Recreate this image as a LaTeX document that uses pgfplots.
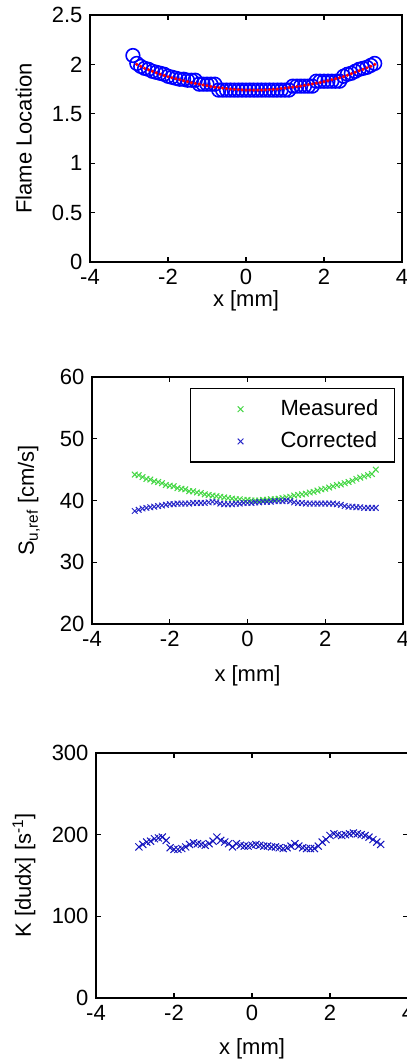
\documentclass[border=0pt]{standalone}
\usepackage{fontspec}
\setmainfont{Liberation Sans}
\usepackage{pgfplots}
\pgfplotsset{compat=1.18}
\definecolor{mgreen}{RGB}{70,215,70}
\definecolor{mblue}{RGB}{40,40,200}
\definecolor{kblue}{RGB}{20,20,190}
\begin{document}
\fontsize{22}{26}\selectfont
\begin{tikzpicture}
\pgfplotsset{
  every axis/.append style={
    scale only axis,
    xmin=-4, xmax=4, xtick={-4,-2,0,2,4},
    tick align=inside, major tick length=5pt,
    axis line style={line width=1.2pt},
    every tick/.style={black, line width=1.2pt},
    font=\fontsize{22}{26}\selectfont,
    /pgf/number format/assume math mode=true,
    tick label style={font=\fontsize{22}{26}\selectfont},
    clip=false,
  }
}
% ---------------- Panel 1 ----------------
\begin{axis}[
  at={(90pt,799pt)}, anchor=south west,
  width=312pt, height=247pt,
  ymin=0, ymax=2.5, ytick={0,0.5,1,1.5,2,2.5},
  yticklabels={0,0.5,1,1.5,2,2.5},
  xlabel={x [mm]}, ylabel={Flame Location},
  xlabel style={at={(axis description cs:0.5,-0.158)}, anchor=center},
  ylabel style={at={(axis description cs:-0.212,0.5)}, anchor=center},
]
\addplot[only marks, mark=o, mark size=6.8pt, blue, line width=1.6pt] coordinates {
(-2.9,2.09) (-2.8,2.01) (-2.7,1.98) (-2.6,1.96) (-2.5,1.95) (-2.4,1.93) (-2.3,1.92)
(-2.2,1.91) (-2.1,1.90) (-2.0,1.88) (-1.9,1.87) (-1.8,1.86) (-1.7,1.85) (-1.6,1.85)
(-1.5,1.84) (-1.4,1.84) (-1.3,1.84) (-1.2,1.80) (-1.1,1.80) (-1.0,1.80) (-0.9,1.80)
(-0.8,1.80) (-0.7,1.74) (-0.6,1.74) (-0.5,1.74) (-0.4,1.74) (-0.3,1.74) (-0.2,1.74)
(-0.1,1.74) (0.0,1.74) (0.1,1.74) (0.2,1.74) (0.3,1.74) (0.4,1.74) (0.5,1.74)
(0.6,1.74) (0.7,1.74) (0.8,1.74) (0.9,1.74) (1.0,1.74) (1.1,1.74) (1.2,1.78)
(1.3,1.78) (1.4,1.78) (1.5,1.78) (1.6,1.78) (1.7,1.78) (1.8,1.83) (1.9,1.83)
(2.0,1.83) (2.1,1.83) (2.2,1.83) (2.3,1.83) (2.4,1.83) (2.5,1.88) (2.6,1.90)
(2.7,1.91) (2.8,1.93) (2.9,1.95) (3.0,1.96) (3.1,1.97) (3.2,1.99) (3.3,2.01)
};
\addplot[red, line width=0.9pt, dash pattern=on 2pt off 2pt, mark=*, mark size=1.1pt, mark options={solid}] coordinates {
(-2.8,2.00) (-2.7,1.98) (-2.6,1.96) (-2.5,1.945) (-2.4,1.93) (-2.3,1.915) (-2.2,1.90)
(-2.1,1.887) (-2.0,1.875) (-1.9,1.865) (-1.8,1.855) (-1.7,1.845) (-1.6,1.835)
(-1.5,1.825) (-1.4,1.815) (-1.3,1.807) (-1.2,1.80) (-1.1,1.792) (-1.0,1.785)
(-0.9,1.777) (-0.8,1.77) (-0.7,1.765) (-0.6,1.76) (-0.5,1.755) (-0.4,1.75)
(-0.3,1.747) (-0.2,1.745) (-0.1,1.742) (0.0,1.74) (0.1,1.74) (0.2,1.74) (0.3,1.74)
(0.4,1.74) (0.5,1.742) (0.6,1.745) (0.7,1.747) (0.8,1.75) (0.9,1.755) (1.0,1.76)
(1.1,1.765) (1.2,1.77) (1.3,1.775) (1.4,1.78) (1.5,1.787) (1.6,1.795) (1.7,1.802)
(1.8,1.81) (1.9,1.817) (2.0,1.825) (2.1,1.835) (2.2,1.845) (2.3,1.855) (2.4,1.865)
(2.5,1.877) (2.6,1.89) (2.7,1.905) (2.8,1.92) (2.9,1.935) (3.0,1.95) (3.1,1.965)
(3.2,1.98) (3.3,2.00)
};
\end{axis}
% ---------------- Panel 2 ----------------
\begin{axis}[
  at={(92pt,437pt)}, anchor=south west,
  width=311pt, height=247pt,
  ymin=20, ymax=60, ytick={20,30,40,50,60},
  xlabel={x [mm]}, ylabel={S\textsubscript{u,ref} [cm/s]},
  xlabel style={at={(axis description cs:0.5,-0.2105)}, anchor=center},
  ylabel style={at={(axis description cs:-0.2026,0.5)}, anchor=center},
  legend style={at={(1,1)}, anchor=north east, xshift=-8pt, yshift=-11pt,
    draw=black, line width=1.2pt, inner xsep=14pt, inner ysep=9pt,
    row sep=9pt, column sep=10pt, font=\fontsize{22}{26}\selectfont,
    nodes={inner sep=2pt}, cells={anchor=west}},
  legend image code/.code={\path[draw=none, fill=none] (0pt,-6pt) rectangle (64pt,6pt); \draw[#1] plot coordinates {(36pt,0pt)};},
]
\addplot[only marks, mark=x, mark size=4pt, mgreen, line width=1pt] coordinates {
(-2.9,44.2) (-2.8,44.1) (-2.7,43.8) (-2.6,43.5) (-2.5,43.4) (-2.4,43.1) (-2.3,43.0)
(-2.2,42.8) (-2.1,42.5) (-2.0,42.4) (-1.9,42.3) (-1.8,42.0) (-1.7,41.9) (-1.6,41.8)
(-1.5,41.5) (-1.4,41.5) (-1.3,41.3) (-1.2,41.2) (-1.1,41.0) (-1.0,40.9) (-0.9,40.8)
(-0.8,40.7) (-0.7,40.6) (-0.6,40.5) (-0.5,40.4) (-0.4,40.3) (-0.3,40.2) (-0.2,40.2)
(-0.1,40.1) (0.0,40.1) (0.1,40.0) (0.2,40.0) (0.3,40.0) (0.4,40.1) (0.5,40.1)
(0.6,40.2) (0.7,40.2) (0.8,40.3) (0.9,40.4) (1.0,40.5) (1.1,40.6) (1.2,40.8)
(1.3,40.9) (1.4,41.0) (1.5,41.1) (1.6,41.3) (1.7,41.4) (1.8,41.6) (1.9,41.8)
(2.0,41.9) (2.1,42.1) (2.2,42.3) (2.3,42.5) (2.4,42.6) (2.5,42.8) (2.6,43.0)
(2.7,43.2) (2.8,43.5) (2.9,43.7) (3.0,43.9) (3.1,44.1) (3.2,44.3) (3.3,45.0)
};
\addlegendentry{Measured}
\addplot[only marks, mark=x, mark size=4pt, mblue, line width=1pt] coordinates {
(-2.9,38.3) (-2.8,38.5) (-2.7,38.7) (-2.6,38.8) (-2.5,38.9) (-2.4,39.0) (-2.3,39.1)
(-2.2,39.2) (-2.1,39.3) (-2.0,39.4) (-1.9,39.4) (-1.8,39.5) (-1.7,39.5) (-1.6,39.5)
(-1.5,39.5) (-1.4,39.6) (-1.3,39.6) (-1.2,39.6) (-1.1,39.6) (-1.0,39.7) (-0.9,39.8)
(-0.8,39.7) (-0.7,39.5) (-0.6,39.4) (-0.5,39.4) (-0.4,39.4) (-0.3,39.5) (-0.2,39.5)
(-0.1,39.6) (0.0,39.6) (0.1,39.6) (0.2,39.7) (0.3,39.7) (0.4,39.8) (0.5,39.8)
(0.6,39.8) (0.7,39.9) (0.8,39.9) (0.9,39.9) (1.0,40.0) (1.1,39.9) (1.2,39.7)
(1.3,39.6) (1.4,39.6) (1.5,39.5) (1.6,39.5) (1.7,39.5) (1.8,39.5) (1.9,39.5)
(2.0,39.5) (2.1,39.5) (2.2,39.5) (2.3,39.4) (2.4,39.3) (2.5,39.1) (2.6,39.0)
(2.7,39.0) (2.8,38.9) (2.9,38.9) (3.0,38.8) (3.1,38.8) (3.2,38.8) (3.3,38.8)
};
\addlegendentry{Corrected}
\end{axis}
% ---------------- Panel 3 ----------------
\begin{axis}[
  at={(96pt,63pt)}, anchor=south west,
  width=312pt, height=245pt,
  ymin=0, ymax=300, ytick={0,100,200,300},
  xlabel={x [mm]}, ylabel={K [dudx] [s\textsuperscript{-1}]},
  xlabel style={at={(axis description cs:0.5,-0.208)}, anchor=center},
  ylabel style={at={(axis description cs:-0.2308,0.5)}, anchor=center},
]
\addplot[only marks, mark=x, mark size=5pt, kblue, line width=1pt] coordinates {
(-2.9,185) (-2.8,188) (-2.7,191) (-2.6,192) (-2.5,195) (-2.4,196) (-2.3,197)
(-2.2,193) (-2.1,184) (-2.0,182) (-1.9,182) (-1.8,183) (-1.7,185) (-1.6,188)
(-1.5,190) (-1.4,189) (-1.3,188) (-1.2,187) (-1.1,189) (-1.0,192) (-0.9,197)
(-0.8,193) (-0.7,191) (-0.6,189) (-0.5,185) (-0.4,189) (-0.3,187) (-0.2,186)
(-0.1,186) (0.0,187) (0.1,188) (0.2,187) (0.3,186) (0.4,186) (0.5,185)
(0.6,185) (0.7,184) (0.8,183) (0.9,184) (1.0,186) (1.1,189) (1.2,186)
(1.3,184) (1.4,183) (1.5,183) (1.6,183) (1.7,186) (1.8,191) (1.9,194)
(2.0,199) (2.1,201) (2.2,200) (2.3,199) (2.4,200) (2.5,201) (2.6,202)
(2.7,201) (2.8,200) (2.9,199) (3.0,197) (3.1,194) (3.2,191) (3.3,188)
};
\end{axis}
\pgfresetboundingbox
\path[use as bounding box] (0pt,0pt) rectangle (407pt,1061pt);
\end{tikzpicture}
\end{document}
